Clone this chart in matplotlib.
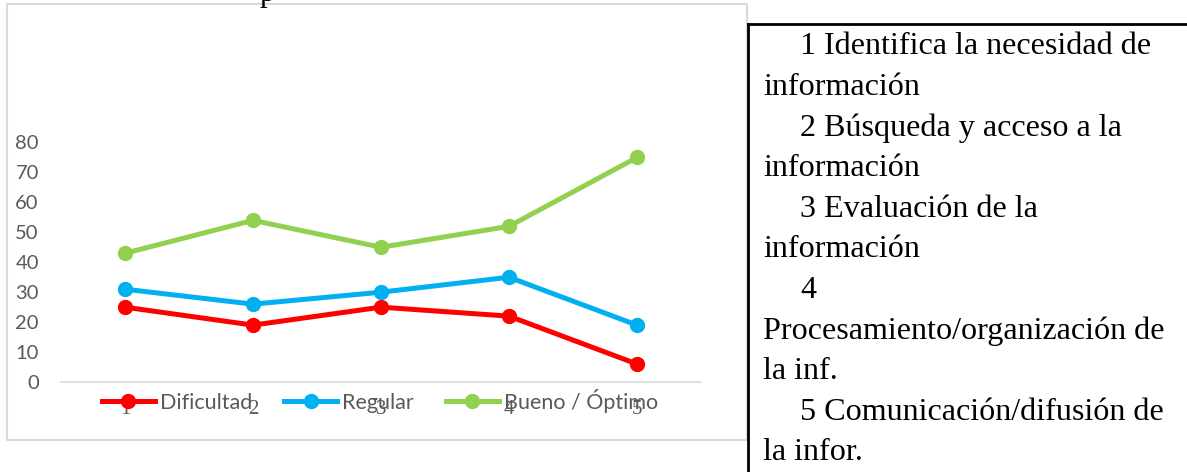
import matplotlib
matplotlib.use('Agg')
import matplotlib.pyplot as plt
from matplotlib.lines import Line2D

plt.rcParams.update({
    'font.family': 'Lato',
    'font.size': 14,
})

# datos
categorias = ['1', '2', '3', '4', '5']
dificultad = [25, 19, 25, 22, 6]
regular = [31, 26, 30, 35, 19]
bueno = [43, 54, 45, 52, 75]

series = ['Dificultad', 'Regular', 'Bueno / Óptimo']
colores = ['#FF0000', '#00B0F0', '#92D050']

# (texto, con sangría)
leyenda_lineas = [
    ('1 Identifica la necesidad de', True),
    ('información', False),
    ('2 Búsqueda y acceso a la', True),
    ('información', False),
    ('3 Evaluación de la', True),
    ('información', False),
    ('4', True),
    ('Procesamiento/organización de', False),
    ('la inf.', False),
    ('5 Comunicación/difusión de', True),
    ('la infor.', False),
]

W, H = 1187, 472
fig = plt.figure(figsize=(W / 100, H / 100), dpi=100)

# marco del gráfico
fig.add_artist(plt.Rectangle((7 / W, 1 - 440 / H), 740 / W, 436 / H,
                             transform=fig.transFigure, fill=False,
                             edgecolor='#D9D9D9', linewidth=1.5))

ax = fig.add_axes([61 / W, 1 - 382 / H, 640 / W, 239.5 / H])
x = list(range(len(categorias)))
for vals, nombre, c in zip([dificultad, regular, bueno], series, colores):
    ax.plot(x, vals, color=c, linewidth=3.6, marker='o', markersize=10,
            label=nombre, clip_on=False, solid_capstyle='round')

ax.set_xlim(-0.5, len(categorias) - 0.5)
ax.set_ylim(0, 80)
ax.set_yticks(range(0, 81, 10))
ax.set_xticks(x)
ax.set_xticklabels(categorias, family='Liberation Serif', fontsize=15, color='#595959')
ax.tick_params(axis='y', length=0, pad=16, labelcolor='#595959', labelsize=14.5)
ax.tick_params(axis='x', length=0, pad=13)
for s in ['top', 'right', 'left']:
    ax.spines[s].set_visible(False)
ax.spines['bottom'].set_color('#D9D9D9')
ax.spines['bottom'].set_linewidth(1.2)

handles = [Line2D([], [], color=c, linewidth=3.6, marker='o', markersize=10)
           for c in colores]
leg = fig.legend(handles, series, loc='center', bbox_to_anchor=(380 / W, 1 - 401 / H),
                 ncol=3, frameon=False, handlelength=2.45, handletextpad=0.23,
                 columnspacing=1.5, fontsize=15.5)
for t in leg.get_texts():
    t.set_color('#595959')

# resto del título cortado arriba
fig.text(260 / W, 1 - 1 / H, 'p', family='Liberation Serif', fontsize=22,
         va='baseline', ha='left')

# cuadro de texto a la derecha
fig.add_artist(Line2D([748 / W, 748 / W], [0, 1 - 24 / H], transform=fig.transFigure,
                      color='black', linewidth=2))
fig.add_artist(Line2D([748 / W, 1], [1 - 24 / H, 1 - 24 / H], transform=fig.transFigure,
                      color='black', linewidth=2))
for i, (linea, sangria) in enumerate(leyenda_lineas):
    y = 46.7 + i * 40.6
    x0 = 800 if sangria else 763
    fig.text(x0 / W, 1 - y / H, linea, family='Liberation Serif', fontsize=23.1,
             va='center', ha='left', color='black')

fig.savefig('out.png', dpi=100)
